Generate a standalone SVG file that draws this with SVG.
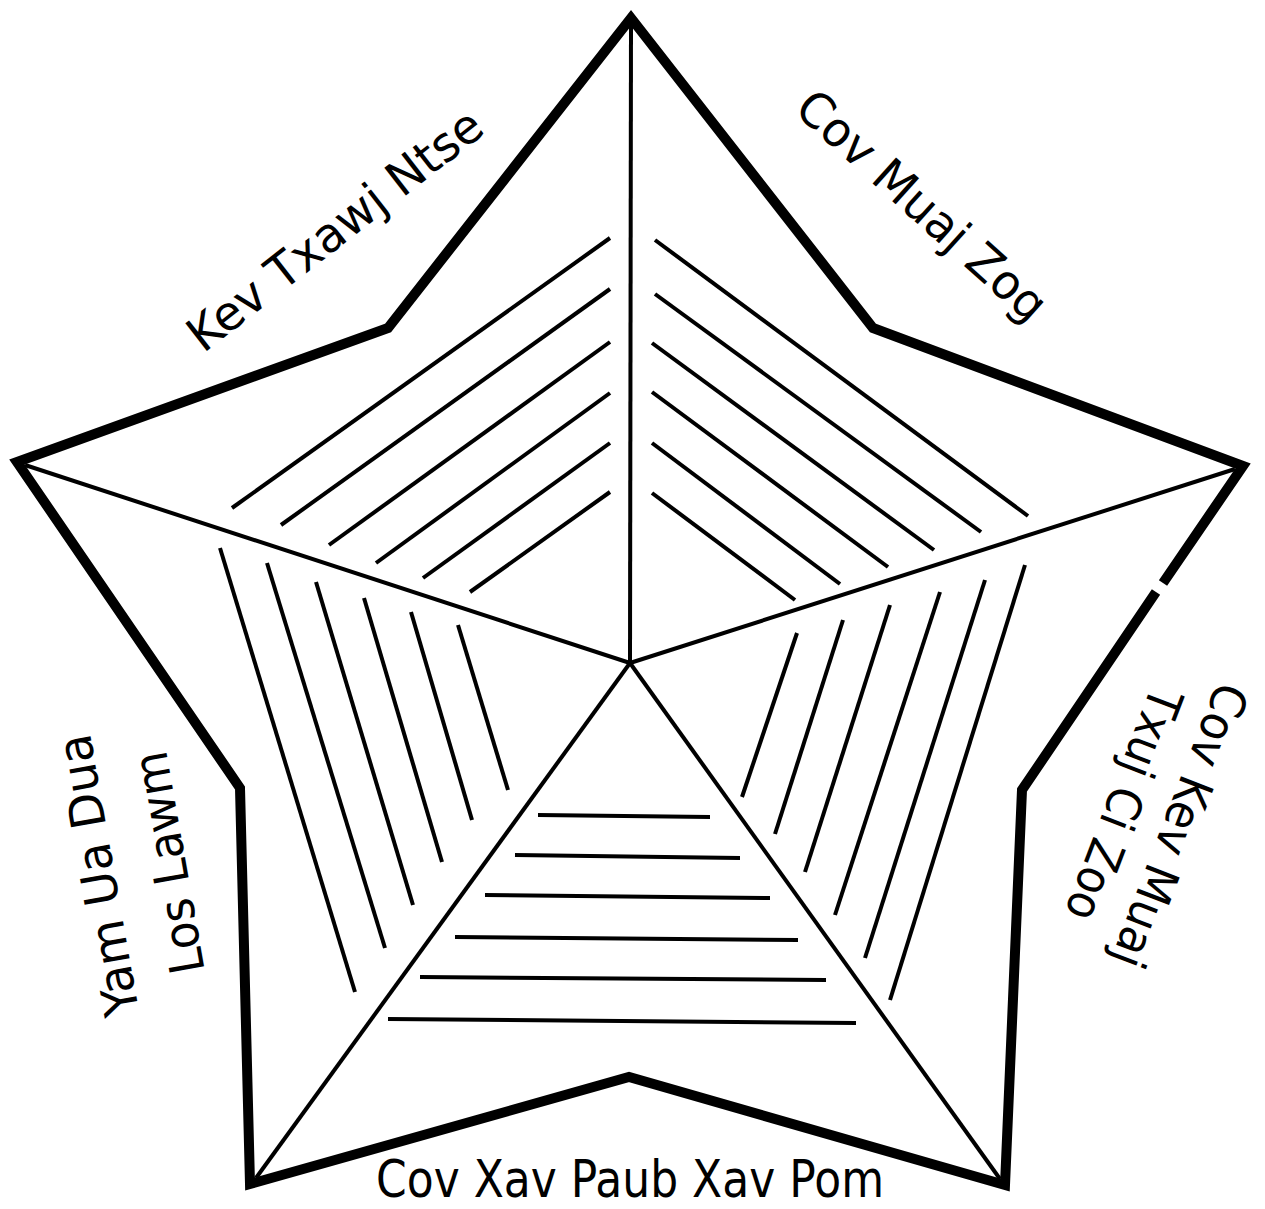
<svg xmlns="http://www.w3.org/2000/svg" width="1265" height="1209" viewBox="0 0 1265 1209">
<style>
.outline{fill:none;stroke:#000;stroke-width:10;stroke-linejoin:miter;stroke-miterlimit:10}
.axis{stroke:#000;stroke-width:4;fill:none}
.hatch{stroke:#000;stroke-width:4;fill:none}
.lbl{font-family:"DejaVu Sans","Liberation Sans",sans-serif;font-size:48px;fill:#000;text-anchor:middle}
</style>
<rect width="1265" height="1209" fill="#fff"/>
<g id="star">
<path class="outline" d="M1156,592 L1022,790 L1005,1185 L629,1077 L250,1184 L240,788 L17,462 L388,328 L631,18 L873,328 L1243,466 L1163,583"/>
</g>
<g id="connectors">
<line class="axis" x1="630" y1="663" x2="631" y2="25"/>
<line class="axis" x1="630" y1="663" x2="25" y2="465"/>
<line class="axis" x1="630" y1="663" x2="1235" y2="469"/>
<line class="axis" x1="630" y1="663" x2="256" y2="1178"/>
<line class="axis" x1="630" y1="663" x2="1000" y2="1179"/>
</g>
<g id="hatch-top-left">
<line class="hatch" x1="610" y1="238" x2="232" y2="508"/>
<line class="hatch" x1="610" y1="289" x2="281" y2="525"/>
<line class="hatch" x1="610" y1="342" x2="329" y2="545"/>
<line class="hatch" x1="610" y1="393" x2="376" y2="563"/>
<line class="hatch" x1="610" y1="443" x2="423" y2="578"/>
<line class="hatch" x1="610" y1="492" x2="470" y2="592"/>
</g>
<g id="hatch-top-right">
<line class="hatch" x1="655" y1="240" x2="1028" y2="516"/>
<line class="hatch" x1="655" y1="294" x2="981" y2="532"/>
<line class="hatch" x1="652" y1="343" x2="934" y2="550"/>
<line class="hatch" x1="652" y1="392" x2="888" y2="567"/>
<line class="hatch" x1="652" y1="443" x2="840" y2="584"/>
<line class="hatch" x1="652" y1="493" x2="795" y2="600"/>
</g>
<g id="hatch-left">
<line class="hatch" x1="220" y1="548" x2="355" y2="992"/>
<line class="hatch" x1="267" y1="563" x2="385" y2="948"/>
<line class="hatch" x1="316" y1="582" x2="413" y2="905"/>
<line class="hatch" x1="364" y1="598" x2="442" y2="862"/>
<line class="hatch" x1="411" y1="612" x2="472" y2="820"/>
<line class="hatch" x1="458" y1="625" x2="508" y2="790"/>
</g>
<g id="hatch-right">
<line class="hatch" x1="1025" y1="565" x2="890" y2="1000"/>
<line class="hatch" x1="985" y1="580" x2="865" y2="958"/>
<line class="hatch" x1="940" y1="592" x2="835" y2="915"/>
<line class="hatch" x1="890" y1="605" x2="805" y2="872"/>
<line class="hatch" x1="843" y1="620" x2="775" y2="834"/>
<line class="hatch" x1="797" y1="633" x2="742" y2="797"/>
</g>
<g id="hatch-bottom">
<line class="hatch" x1="538" y1="815" x2="710" y2="817"/>
<line class="hatch" x1="515" y1="855" x2="740" y2="858"/>
<line class="hatch" x1="485" y1="895" x2="770" y2="898"/>
<line class="hatch" x1="455" y1="937" x2="798" y2="940"/>
<line class="hatch" x1="420" y1="977" x2="826" y2="980"/>
<line class="hatch" x1="388" y1="1019" x2="856" y2="1023"/>
</g>
<g id="label-top-left">
<text class="lbl" transform="translate(345,243) rotate(-38)" textLength="360" lengthAdjust="spacingAndGlyphs">Kev Txawj Ntse</text>
</g>
<g id="label-top-right">
<text class="lbl" transform="translate(911,218) rotate(42)" textLength="318" lengthAdjust="spacingAndGlyphs">Cov Muaj Zog</text>
</g>
<g id="label-right">
<text class="lbl" transform="translate(1180,826) rotate(111)" textLength="300" lengthAdjust="spacingAndGlyphs" y="17">Cov Kev Muaj</text>
<text class="lbl" transform="translate(1180,826) rotate(111)" textLength="245" lengthAdjust="spacingAndGlyphs" y="77">Txuj Ci Zoo</text>
</g>
<g id="label-left">
<text class="lbl" transform="translate(140,868) rotate(-100)" textLength="285" lengthAdjust="spacingAndGlyphs" y="-26">Yam Ua Dua</text>
<text class="lbl" transform="translate(140,868) rotate(-100)" textLength="225" lengthAdjust="spacingAndGlyphs" y="46">Los Lawm</text>
</g>
<g id="label-bottom">
<text class="lbl" x="630" y="1197" style="font-size:52px" textLength="508" lengthAdjust="spacingAndGlyphs">Cov Xav Paub Xav Pom</text>
</g>
</svg>
